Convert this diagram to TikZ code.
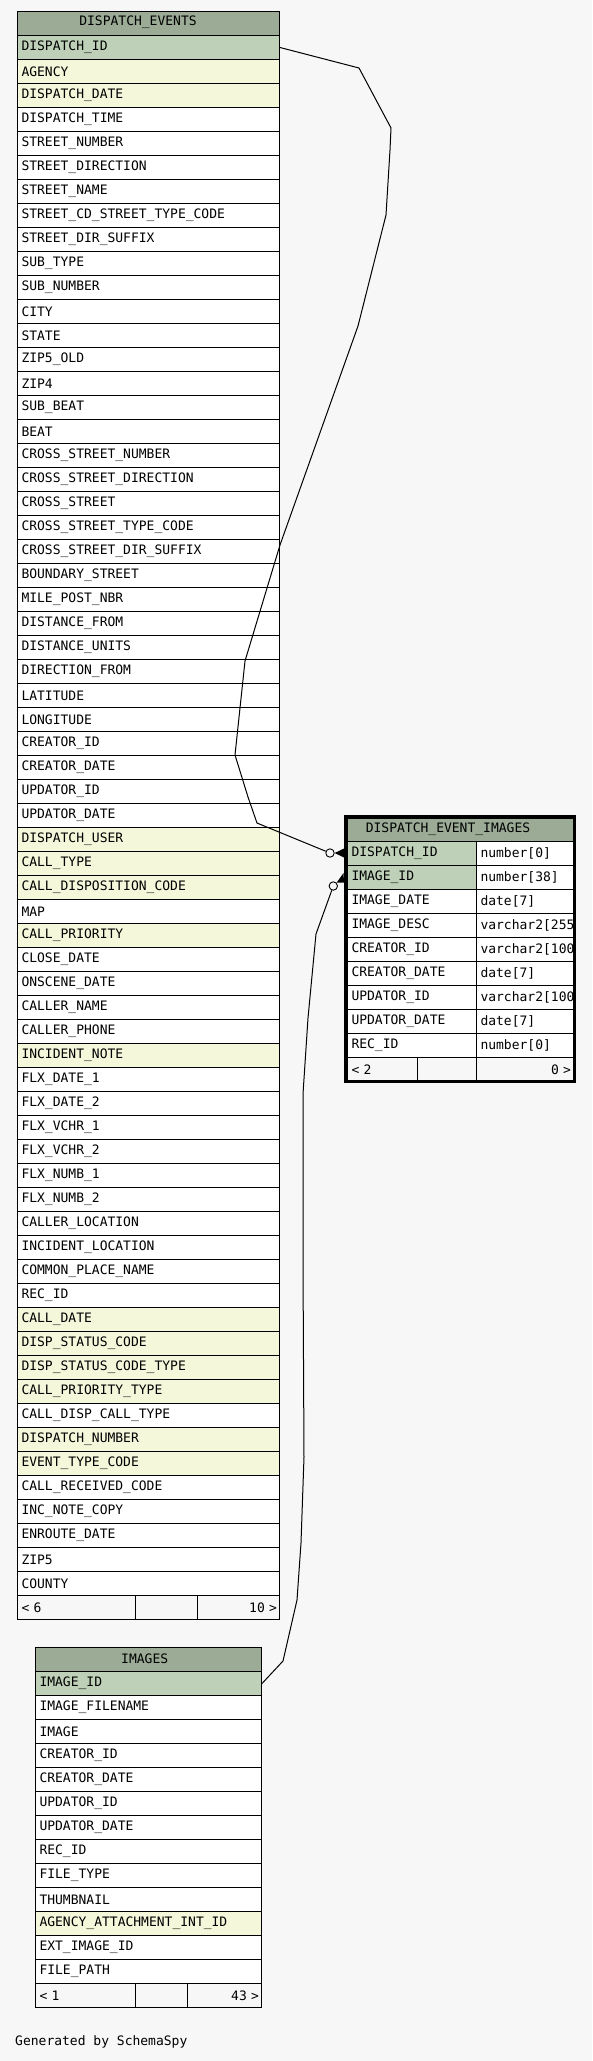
\documentclass[tikz,border=0pt]{standalone}
\usepackage{fontspec}
\usepackage{xcolor}
\usepackage{tikz}
\usetikzlibrary{positioning}
\newfontfamily\erfont{DejaVu Sans Mono}
\definecolor{bgc}{HTML}{F7F7F7}
\definecolor{headc}{HTML}{9BAB96}
\definecolor{pkc}{HTML}{BED1B8}
\definecolor{ixc}{HTML}{F4F7DA}

\begin{document}
\begin{tikzpicture}[
  x=1pt, y=-1pt,
  cell/.style={draw, line width=1pt, anchor=north west, minimum height=24pt,
               inner xsep=4pt, inner ysep=0pt, align=left,
               font=\erfont\fontsize{13}{13}\selectfont},
  decell/.style={cell, minimum width=262pt, text width=254pt},
  imcell/.style={cell, minimum width=226pt, text width=218pt},
  namecell/.style={cell, minimum width=129pt, text width=121pt},
  typecell/.style={cell, fill=white, minimum width=97pt, text width=89pt},
  headcell/.style={cell, fill=headc},
  title/.style={font=\erfont\fontsize{13}{13}\selectfont, inner sep=0pt},
  footcell/.style={cell, fill=bgc},
  footright/.style={footcell, inner xsep=2.5pt, align=right},
  odot/.style={draw, circle, fill=bgc, line width=0.9pt, minimum size=8.4pt, inner sep=0pt},
  link/.style={line width=1pt}
]
  \fill[bgc] (0,0) rectangle (592,2061);
  \useasboundingbox (0,0) rectangle (592,2061);

  % DISPATCH_EVENTS
  \node[headcell, minimum width=262pt] (de-head) at (17,11) {};
  \node[title] (de-title) at (138,22.5) {DISPATCH\_EVENTS};
  \foreach \n/\c [count=\i] in {
      DISPATCH\_ID/pkc, AGENCY/ixc, DISPATCH\_DATE/ixc, DISPATCH\_TIME/white,
      STREET\_NUMBER/white, STREET\_DIRECTION/white, STREET\_NAME/white,
      STREET\_CD\_STREET\_TYPE\_CODE/white, STREET\_DIR\_SUFFIX/white,
      SUB\_TYPE/white, SUB\_NUMBER/white, CITY/white, STATE/white,
      ZIP5\_OLD/white, ZIP4/white, SUB\_BEAT/white, BEAT/white,
      CROSS\_STREET\_NUMBER/white, CROSS\_STREET\_DIRECTION/white,
      CROSS\_STREET/white, CROSS\_STREET\_TYPE\_CODE/white,
      CROSS\_STREET\_DIR\_SUFFIX/white, BOUNDARY\_STREET/white,
      MILE\_POST\_NBR/white, DISTANCE\_FROM/white, DISTANCE\_UNITS/white,
      DIRECTION\_FROM/white, LATITUDE/white, LONGITUDE/white,
      CREATOR\_ID/white, CREATOR\_DATE/white, UPDATOR\_ID/white,
      UPDATOR\_DATE/white, DISPATCH\_USER/ixc, CALL\_TYPE/ixc,
      CALL\_DISPOSITION\_CODE/ixc, MAP/white, CALL\_PRIORITY/ixc,
      CLOSE\_DATE/white, ONSCENE\_DATE/white, CALLER\_NAME/white,
      CALLER\_PHONE/white, INCIDENT\_NOTE/ixc, FLX\_DATE\_1/white,
      FLX\_DATE\_2/white, FLX\_VCHR\_1/white, FLX\_VCHR\_2/white,
      FLX\_NUMB\_1/white, FLX\_NUMB\_2/white, CALLER\_LOCATION/white,
      INCIDENT\_LOCATION/white, COMMON\_PLACE\_NAME/white, REC\_ID/white,
      CALL\_DATE/ixc, DISP\_STATUS\_CODE/ixc, DISP\_STATUS\_CODE\_TYPE/ixc,
      CALL\_PRIORITY\_TYPE/ixc, CALL\_DISP\_CALL\_TYPE/white,
      DISPATCH\_NUMBER/ixc, EVENT\_TYPE\_CODE/ixc, CALL\_RECEIVED\_CODE/white,
      INC\_NOTE\_COPY/white, ENROUTE\_DATE/white, ZIP5/white, COUNTY/white}
    \node[decell, fill=\c] (de\i) at (17,{11+24*\i}) {\n};
  \node[footcell, minimum width=118pt, text width=110pt] (de-fl) at (17,1595) {< 6};
  \node[footcell, minimum width=62pt] (de-fm) at (135,1595) {};
  \node[footright, minimum width=82pt, text width=77pt] (de-fr) at (197,1595) {10 >};

  % IMAGES
  \node[headcell, minimum width=226pt] (im-head) at (35,1647) {};
  \node[title] (im-title) at (144.7,1658.5) {IMAGES};
  \foreach \n/\c [count=\i] in {
      IMAGE\_ID/pkc, IMAGE\_FILENAME/white, IMAGE/white, CREATOR\_ID/white,
      CREATOR\_DATE/white, UPDATOR\_ID/white, UPDATOR\_DATE/white,
      REC\_ID/white, FILE\_TYPE/white, THUMBNAIL/white,
      AGENCY\_ATTACHMENT\_INT\_ID/ixc, EXT\_IMAGE\_ID/white, FILE\_PATH/white}
    \node[imcell, fill=\c] (im\i) at (35,{1647+24*\i}) {\n};
  \node[footcell, minimum width=100pt, text width=92pt] (im-fl) at (35,1983) {< 1};
  \node[footcell, minimum width=52pt] (im-fm) at (135,1983) {};
  \node[footright, minimum width=74pt, text width=69pt] (im-fr) at (187,1983) {43 >};

  % DISPATCH_EVENT_IMAGES
  \node[headcell, minimum width=226pt, minimum height=23pt] (dei-head) at (347,818) {};
  \node[title] (dei-title) at (448,829) {DISPATCH\_EVENT\_IMAGES};
  \foreach \n/\t/\c [count=\i] in {
      DISPATCH\_ID/number[0]/pkc, IMAGE\_ID/number[38]/pkc,
      IMAGE\_DATE/date[7]/white, IMAGE\_DESC/varchar2[255]/white,
      CREATOR\_ID/varchar2[100]/white, CREATOR\_DATE/date[7]/white,
      UPDATOR\_ID/varchar2[100]/white, UPDATOR\_DATE/date[7]/white,
      REC\_ID/number[0]/white} {
    \node[namecell, fill=\c] (dein\i) at (347,{817+24*\i}) {\n};
    \begin{scope}
      \clip (476,{817+24*\i}) rectangle (573.5,{841+24*\i});
      \node[typecell] (deit\i) at (476,{817+24*\i}) {\t};
    \end{scope}
  }
  \node[footcell, minimum width=70pt, text width=62pt] (dei-fl) at (347,1057) {< 2};
  \node[footcell, minimum width=59pt] (dei-fm) at (417,1057) {};
  \node[footright, minimum width=97pt, text width=92pt] (dei-fr) at (476,1057) {0 >};
  \draw[line width=3pt] (345,816.5) rectangle (574.2,1081.8);

  % relationships
  \node[odot] (oA) at (330,853) {};
  \node[odot] (oB) at (333.3,886) {};
  \draw[link] (de1.east) -- (359,68) -- (391,128) -- (390,150) -- (386,215)
    -- (358,326) -- (280,545) -- (245,661) -- (235,755) -- (248,797)
    -- (257,823) -- (oA);
  \fill (oA.east) -- (344,848.5) -- (344,857.5) -- cycle;
  \draw[link] (im1.east) -- (283,1661) -- (297,1600) -- (301,1543)
    -- (304,1457) -- (303,1263) -- (303,1094) -- (308,1018) -- (316,934)
    -- (oB);
  \fill (oB.north east) -- (343.5,873) -- (344,882.5) -- cycle;

  \node[title, anchor=west] (credit) at (15,2042) {Generated by SchemaSpy};
\end{tikzpicture}
\end{document}
